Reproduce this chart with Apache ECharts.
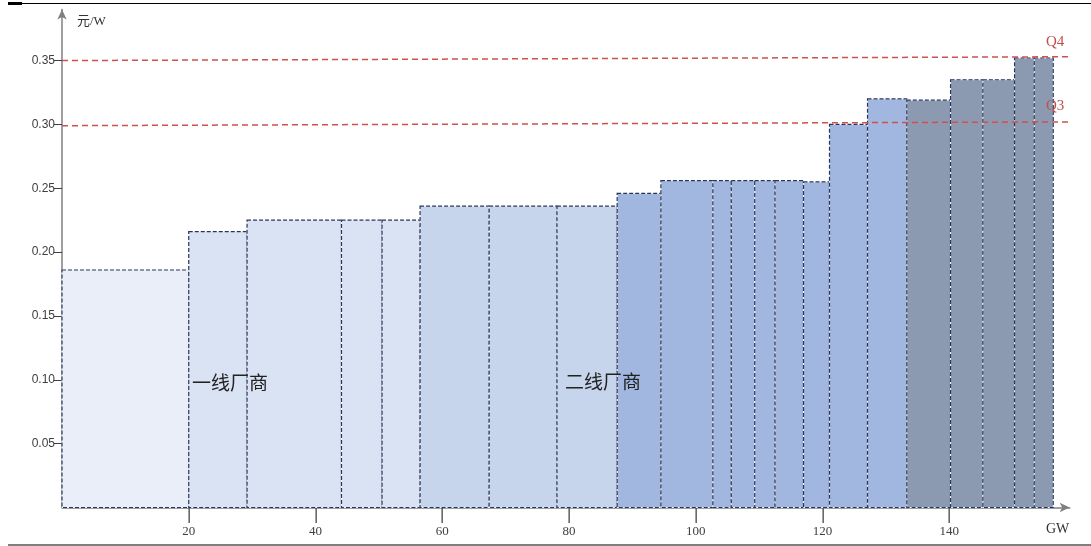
<!DOCTYPE html>
<html>
<head>
<meta charset="utf-8">
<style>
  html, body { margin: 0; padding: 0; background: #fff; }
  #chart { width: 1091px; height: 546px; }
</style>
<script src="https://cdn.jsdelivr.net/npm/echarts@6/dist/echarts.min.js"></script>
</head>
<body>
<div id="chart"></div>
<script>
// capacity edges (GW) of each supplier block, cumulative
const edges = [0, 20, 29.2, 44.1, 50.5, 56.5, 67.4, 78.1, 87.6, 94.5, 102.7, 105.6, 109.3, 112.5, 117.0, 121.1, 127.1, 133.3, 140.2, 145.3, 150.3, 153.4, 156.4];
// price (元/W) of each block
const prices = [0.186, 0.216, 0.225, 0.225, 0.225, 0.236, 0.236, 0.236, 0.246, 0.256, 0.256, 0.256, 0.256, 0.256, 0.255, 0.300, 0.320, 0.319, 0.335, 0.335, 0.352, 0.352];
// colour group of each block
const tiers = [0, 1, 1, 1, 1, 2, 2, 2, 3, 3, 3, 3, 3, 3, 3, 3, 3, 4, 4, 4, 4, 4];
const tierColors = ['#E9EEF8', '#DAE3F3', '#C6D4EC', '#A1B7E0', '#8B9AB1'];

// demand lines
const q3Line = [[0, 0.299], [159, 0.302]];
const q4Line = [[0, 0.350], [159, 0.353]];

const yTicks = [0.05, 0.10, 0.15, 0.20, 0.25, 0.30, 0.35];
const xTicks = [20, 40, 60, 80, 100, 120, 140];

const blocks = prices.map((p, i) => [edges[i], edges[i + 1], p, tiers[i]]);

const chart = echarts.init(document.getElementById('chart'));

const frame = [
    { type: 'rect', shape: { x: 8, y: 2, width: 14, height: 3 }, style: { fill: '#000' } },
    { type: 'line', shape: { x1: 8, y1: 3.5, x2: 1091, y2: 3.5 }, style: { stroke: '#000', lineWidth: 1.2 } },
    { type: 'line', shape: { x1: 8, y1: 545, x2: 1091, y2: 545 }, style: { stroke: '#000', lineWidth: 1.2 } },
    { type: 'text', x: 77, y: 15, z: 100, style: { text: '元/W', fill: '#333', font: '13px "Liberation Serif", "Noto Sans CJK SC"' } },
    { type: 'text', x: 1046, y: 522, z: 100, style: { text: 'GW', fill: '#333', font: '14px "Liberation Serif"' } },
    { type: 'text', x: 1046, y: 35, z: 100, style: { text: 'Q4', fill: '#c0504d', font: '15px "Liberation Serif"' } },
    { type: 'text', x: 1046, y: 99, z: 100, style: { text: 'Q3', fill: '#c0504d', font: '15px "Liberation Serif"' } },
    { type: 'text', x: 192, y: 373, z: 100, style: { text: '一线厂商', fill: '#222', font: '19px "Noto Sans CJK SC"' } },
    { type: 'text', x: 565, y: 372, z: 100, style: { text: '二线厂商', fill: '#222', font: '19px "Noto Sans CJK SC"' } }
];

chart.setOption({
    animation: false,
    grid: { left: 62, top: 9.5, width: 1007.7, height: 498 },
    xAxis: {
        type: 'value',
        min: 0,
        max: 159,
        splitLine: { show: false },
        axisLine: {
            lineStyle: { color: '#7f7f7f', width: 1.5 },
            symbol: ['none', 'arrow'],
            symbolSize: [7, 10]
        },
        axisTick: { show: false },
        axisLabel: {
            customValues: xTicks,
            margin: 18,
            color: '#404040',
            fontFamily: 'Liberation Serif',
            fontSize: 13
        }
    },
    yAxis: {
        type: 'value',
        min: 0,
        max: 0.39,
        splitLine: { show: false },
        axisLine: {
            show: true,
            lineStyle: { color: '#7f7f7f', width: 1.5 },
            symbol: ['none', 'arrow'],
            symbolSize: [7, 10]
        },
        axisTick: { show: true, inside: false, length: 8, lineStyle: { color: '#404040' }, customValues: yTicks },
        axisLabel: {
            customValues: yTicks,
            margin: 7,
            color: '#404040',
            fontFamily: 'Liberation Sans',
            fontSize: 12,
            formatter: v => v.toFixed(2)
        }
    },
    series: [
        {
            type: 'custom',
            data: blocks,
            z: 1,
            renderItem: (params, api) => {
                const tl = api.coord([api.value(0), api.value(2)]);
                const br = api.coord([api.value(1), 0]);
                const shape = { x: tl[0], y: tl[1], width: br[0] - tl[0], height: br[1] - tl[1] };
                return {
                    type: 'group',
                    children: [
                        { type: 'rect', shape, style: { fill: tierColors[api.value(3)], stroke: '#f4f6fb', lineWidth: 1 } },
                        { type: 'rect', shape, style: { fill: 'none', stroke: '#26355a', lineWidth: 1.2, lineDash: [4, 2] } }
                    ]
                };
            }
        },
        {
            type: 'line',
            data: q3Line,
            z: 3,
            showSymbol: false,
            lineStyle: { color: '#d0504c', width: 1.5, type: [6, 4] }
        },
        {
            type: 'line',
            data: q4Line,
            z: 3,
            showSymbol: false,
            lineStyle: { color: '#d0504c', width: 1.5, type: [6, 4] }
        }
    ],
    graphic: frame
});

// x-axis tick marks as thin filled bars, positioned through the axis scale
const tickMarks = xTicks.map(v => {
    const p = chart.convertToPixel({ xAxisIndex: 0, yAxisIndex: 0 }, [v, 0]);
    return { type: 'rect', z: 100, shape: { x: Math.round(p[0]) - 0.5, y: Math.round(p[1]), width: 1.3, height: 15 }, style: { fill: '#444' } };
});
chart.setOption({ graphic: frame.concat(tickMarks) });
</script>
</body>
</html>
